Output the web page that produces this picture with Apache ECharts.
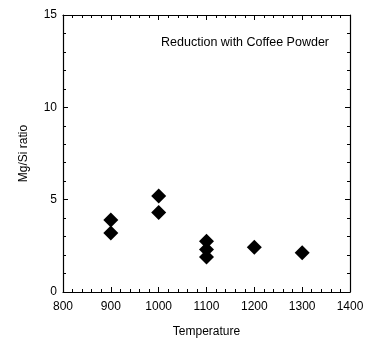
<!DOCTYPE html>
<html>
<head>
<meta charset="utf-8">
<script src="https://cdn.jsdelivr.net/npm/echarts@6/dist/echarts.min.js"></script>
<style>
  html, body { margin: 0; padding: 0; background: #fff; }
  #chart { width: 369px; height: 345px; }
</style>
</head>
<body>
<div id="chart"></div>
<script>
// Reduction temperature (°C) and measured Mg/Si ratio for each sample
const temperatures = [900, 900, 1000, 1000, 1100, 1100, 1100, 1200, 1300];
const mgSiRatios   = [3.9, 3.2, 5.2, 4.3, 2.75, 2.3, 1.9, 2.42, 2.13];

const xTicks = [800, 900, 1000, 1100, 1200, 1300, 1400];
const yTicks = [0, 5, 10, 15];

const FONT = '"Liberation Sans", Arial, sans-serif';

const points = temperatures.map((t, i) => [t, mgSiRatios[i]]);

function xAxisDef(pos, showLabels) {
  return {
    type: 'value',
    position: pos,
    min: xTicks[0],
    max: xTicks[xTicks.length - 1],
    interval: xTicks[1] - xTicks[0],
    name: showLabels ? 'Temperature' : '',
    nameLocation: 'middle',
    nameGap: 34,
    nameTextStyle: { color: '#000', fontSize: 12, fontFamily: FONT },
    axisLine: { show: true, onZero: false, lineStyle: { color: '#000', width: 1.2 } },
    axisTick: { show: true, inside: true, length: 5, lineStyle: { color: '#000' } },
    minorTick: { show: true, splitNumber: 5, length: 3, lineStyle: { color: '#000' } },
    axisLabel: {
      show: showLabels, color: '#000', fontSize: 12, fontFamily: FONT, margin: 9,
      formatter: v => String(v)
    },
    splitLine: { show: false }
  };
}

function yAxisDef(pos, showLabels) {
  return {
    type: 'value',
    position: pos,
    min: yTicks[0],
    max: yTicks[yTicks.length - 1],
    interval: yTicks[1] - yTicks[0],
    name: showLabels ? 'Mg/Si ratio' : '',
    nameLocation: 'middle',
    nameGap: 33,
    nameTextStyle: { color: '#000', fontSize: 12, fontFamily: FONT },
    axisLine: { show: true, onZero: false, lineStyle: { color: '#000', width: 1.2 } },
    axisTick: { show: true, inside: true, length: 5, lineStyle: { color: '#000' } },
    minorTick: { show: true, splitNumber: 5, length: 3, lineStyle: { color: '#000' } },
    axisLabel: {
      show: showLabels, color: '#000', fontSize: 12, fontFamily: FONT, margin: 6,
      formatter: v => String(v)
    },
    splitLine: { show: false }
  };
}

const chart = echarts.init(document.getElementById('chart'), null, { renderer: 'canvas' });
chart.setOption({
  animation: false,
  backgroundColor: '#fff',
  title: {
    text: 'Reduction with Coffee Powder',
    right: 35,
    top: 31,
    textStyle: { color: '#000', fontSize: 12.5, fontWeight: 'normal', fontFamily: FONT }
  },
  grid: { left: 63, right: 19, top: 15, bottom: 53, containLabel: false },
  xAxis: [xAxisDef('bottom', true), xAxisDef('top', false)],
  yAxis: [yAxisDef('left', true), yAxisDef('right', false)],
  series: [{
    type: 'scatter',
    xAxisIndex: 0,
    yAxisIndex: 0,
    symbol: 'diamond',
    symbolSize: 15,
    itemStyle: { color: '#000', opacity: 1 },
    emphasis: { disabled: true },
    data: points
  }]
});
</script>
</body>
</html>
